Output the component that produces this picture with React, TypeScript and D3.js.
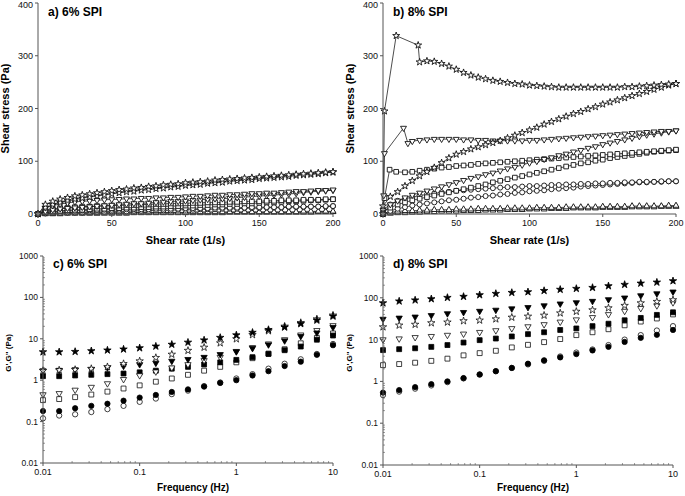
import React from 'react';
import * as d3 from 'd3';

// ---------- shared x values ----------
const rate = [0,5,10,15,20,25,30,35,40,45,50,55,60,65,70,75,80,85,90,95,100,105,110,115,120,125,130,135,140,145,150,155,160,165,170,175,180,185,190,195,200];
const freq = [0.01,0.0147,0.0215,0.0316,0.0464,0.0681,0.1,0.147,0.215,0.316,0.464,0.681,1,1.47,2.15,3.16,4.64,6.81,10];

// ---------- panel a: 6% SPI flow curves ----------
const aStarUp = [0,18,24,28,31,34,36,38,40,42,44,46,47,49,50,52,53,55,56,57,59,60,61,62,64,65,66,67,68,69,70,71,72,73,74,75,76,77,78,79,80];
const aStarDown = [0,12,18,22,25,28,30,32,34,36,38,40,42,43,45,46,48,49,51,52,54,55,56,58,59,60,62,63,64,65,67,68,69,70,71,73,74,75,76,78,79];
const aTriDnUp = [0,12,16,19,21,23,24,25,26,27,27.5,28,29,29,30,30,31,31,32,32,33,34,34,35,36,36,37,37,38,39,39,40,40,41,42,43,43,44,45,45,46];
const aTriDnDown = [0,5,8,10,11,12,13,14,15,16,17,18,19,20,20,21,22,23,24,24,25,26,27,28,29,29,30,31,32,33,34,35,36,37,38,39,41,42,43,44,45];
const aSqUp = [0,7,10,11,12,13,14,14,15,15,16,16,17,17,18,18,19,19,20,20,20,21,21,22,22,22,23,23,24,24,24,25,25,26,26,26,27,27,27,28,28];
const aSqDown = [0,3,5,6,7,8,8,9,10,10,11,11,12,12,13,13,14,14,15,15,16,16,17,17,18,18,19,19,20,20,21,22,22,23,24,24,25,26,26,27,28];
const aCircUp = [0,3,4,5,6,6,7,7,7,8,8,8,9,9,9,9,10,10,10,10,11,11,11,11,12,12,12,12,12,13,13,13,13,13,14,14,14,14,14,15,15];
const aCircDown = [0,1,2,2,3,3,3,4,4,4,5,5,5,6,6,6,7,7,7,8,8,8,9,9,9,10,10,10,11,11,11,12,12,12,13,13,13,14,14,14,15];
const aTriUpUp = [0,1,1,2,2,2,2,2,2,3,3,3,3,3,3,3,3,3,3,3,3,4,4,4,4,4,4,4,4,4,4,4,4,4,4,4,5,5,5,5,5];
const aTriUpDown = [0,0,0,0,1,1,1,1,1,1,1,1,1,2,2,2,2,2,2,2,2,2,2,2,2,2,3,3,3,3,3,3,3,3,3,3,3,3,4,4,4];

// ---------- panel b: 8% SPI flow curves ----------
const bStarHeadX = [0,1,9,24,25];
const bStarHeadY = [0,195,338,320,288];
const bStarUpTail = [290,289,285,280,274,268,263,259,256,253,251,249,247,246,244,243,242,241,240,240,240,240,240,240,240,240,240,241,241,242,243,244,245,246,247];
const bStarDown = [15,33,42,53,63,72,80,88,97,106,113,118,123,127,131,135,139,144,149,154,159,164,170,175,180,185,190,194,199,203,208,212,216,220,224,228,232,236,240,244,247];
const bTriHeadX = [0,0.5,1,14,17];
const bTriHeadY = [0,35,115,163,134];
const bTriUpTail = [138,140,141,142,142,142,142,141,141,140,140,139,139,139,139,139,140,140,141,142,143,144,145,146,147,148,149,150,151,152,153,154,155,156,157,157,158];
const bTriDown = [8,18,25,31,36,40,44,48,52,56,60,64,68,71,75,78,82,86,89,93,97,100,104,107,111,114,118,121,125,128,132,135,138,141,144,147,150,152,154,156,158];
const bSqHeadX = [0,1,4.5,9];
const bSqHeadY = [0,30,84,80];
const bSqUpTail = [79,80,82,84,86,88,89,91,92,93,95,96,97,98,99,100,101,102,103,104,105,106,107,108,109,110,111,112,113,114,115,116,117,118,119,120,121,122];
const bSqDown = [4,12,18,22,26,29,32,35,38,41,44,47,50,53,56,60,63,66,69,72,75,78,81,84,87,90,93,96,98,101,103,106,108,110,112,114,116,118,119,120,121];
const bCircUp = [0,18,25,29,32,35,37,39,41,42,44,45,46,47,48,49,50,51,51,52,53,53,54,55,55,56,56,57,57,58,58,59,59,60,60,61,61,61,62,62,62];
const bCircDown = [0,6,10,13,16,18,20,22,24,26,27,29,31,32,34,35,37,38,40,41,43,44,45,47,48,49,50,52,53,54,55,56,57,58,59,60,60,61,61,62,62];
const bTriUpUp = [0,3,5,6,6,7,7,8,8,8,9,9,9,10,10,10,10,11,11,11,11,12,12,12,12,13,13,13,13,13,14,14,14,14,15,15,15,15,15,16,16];
const bTriUpDown = [0,1,2,2,3,3,4,4,5,5,5,6,6,6,7,7,7,8,8,8,9,9,9,10,10,10,11,11,11,11,12,12,12,12,13,13,13,13,14,14,14];

// ---------- panel c: 6% SPI G', G'' ----------
const cStarF = [4.8,4.8,4.9,5.1,5.3,5.6,6.0,6.6,7.3,8.2,9.3,10.7,12.3,14.2,16.6,19,23,28,35];
const cStarO = [1.7,1.75,1.8,1.9,2.1,2.5,2.9,3.5,4.2,5.2,6.2,7.9,9.9,12.5,15.5,20,24.5,30,37];
const cTriF = [1.7,1.75,1.8,1.85,2.0,2.2,2.4,2.6,2.9,3.2,3.6,4.2,4.9,5.9,7.2,9,11.5,14,19];
const cTriO = [0.45,0.48,0.58,0.68,0.83,1.05,1.3,1.6,2.0,2.4,3.0,3.6,5.0,6.2,7.6,9.6,12.5,16,21];
const cSqF = [1.25,1.25,1.3,1.35,1.4,1.45,1.55,1.7,1.9,2.1,2.4,2.7,3.1,3.6,4.3,5.3,6.5,9.5,12];
const cSqO = [0.33,0.35,0.39,0.45,0.53,0.63,0.75,0.92,1.1,1.35,1.7,2.1,2.7,3.4,4.4,5.6,7.8,10.5,13.5];
const cCircF = [0.18,0.18,0.21,0.24,0.27,0.32,0.38,0.44,0.52,0.6,0.7,0.86,1.0,1.3,1.65,2.2,2.8,4.1,7.0];
const cCircO = [0.12,0.14,0.15,0.17,0.2,0.24,0.3,0.36,0.46,0.56,0.72,0.88,1.1,1.4,1.9,2.5,3.2,4.3,7.5];

// ---------- panel d: 8% SPI G', G'' ----------
const dStarF = [75,83,88,94,101,107,117,126,133,138,148,158,166,175,192,207,222,235,253];
const dTriF = [31,33,35,38,42,45,48,51,55,59,65,72,77,83,91,100,113,126,139];
const dStarO = [20,22,23,25,26,28,29,31,34,36,38,43,47,51,57,65,75,81,89];
const dTriO = [10,10.5,11.3,12,12.8,13.7,15,16.5,18.5,20.5,23,26.5,30,34,40,48,56,65,77];
const dSqF = [5.6,5.9,6.2,6.7,7.4,8.5,9.7,10.6,11.9,13.5,15,17,18.5,21,24,29,33,39,45];
const dSqO = [2.45,2.6,2.8,3.1,3.5,4.2,4.75,5.4,6.5,7.5,8.7,10.3,12.8,15,17.7,22,27,32,40];
const dCircF = [0.54,0.62,0.73,0.86,1.0,1.2,1.47,1.76,2.1,2.65,3.2,3.75,4.5,5.5,6.7,8.8,11,13,17];
const dCircO = [0.47,0.57,0.67,0.8,0.96,1.18,1.45,1.75,2.1,2.55,3.1,3.95,4.9,5.8,7.4,10,12.8,16.5,21];

// ---------- tick labels ----------
const linXTicks = [0,50,100,150,200];
const linYTicks = [0,100,200,300,400];
const logXTicks = [0.01,0.1,1,10];
const logYTicks = [0.01,0.1,1,10,100,1000];

type Shape = 'star' | 'triDown' | 'triUp' | 'square' | 'circle';
type Series = { xs: number[]; ys: number[]; shape: Shape; filled: boolean; line?: boolean };

const FONT = "Arial, 'Liberation Sans', Helvetica, sans-serif";
const AXIS = '#555';

function symbolPath(shape: Shape, big: boolean): string {
  const s = big ? 1 : 0.9;
  const gen = d3.symbol();
  switch (shape) {
    case 'star': return gen.type(d3.symbolStar).size(17 * s)()!;
    case 'triDown':
    case 'triUp': return gen.type(d3.symbolTriangle).size(17 * s)()!;
    case 'square': return gen.type(d3.symbolSquare).size(24 * s)()!;
    default: return gen.type(d3.symbolCircle).size(22 * s)()!;
  }
}

function Marks({ series, sx, sy, big }: { series: Series[]; sx: (v: number) => number; sy: (v: number) => number; big: boolean }) {
  return (
    <g>
      {series.map((s, i) => {
        const pts: [number, number][] = s.xs.map((x, j) => [x, s.ys[j]]);
        const line = d3.line<[number, number]>().x(d => sx(d[0])).y(d => sy(d[1]));
        return s.line ? <path key={'l' + i} d={line(pts) || ''} fill="none" stroke="#000" strokeWidth={0.7} /> : null;
      })}
      {series.map((s, i) => {
        const p = symbolPath(s.shape, big);
        const rot = s.shape === 'triDown' ? ' rotate(180)' : '';
        return (
          <g key={'m' + i}>
            {s.xs.map((x, j) => (
              <path key={j} d={p} transform={`translate(${sx(x)},${sy(s.ys[j])})${rot}`}
                fill={s.filled ? '#000' : '#fff'} stroke={s.filled ? '#000' : '#111'} strokeWidth={big ? 0.8 : 0.9} />
            ))}
          </g>
        );
      })}
    </g>
  );
}

function LinearPanel({ x0, x1, yTop, yBot, title, series, yLabelX, xLabelY }: any) {
  const sx = d3.scaleLinear().domain([0, 200]).range([x0, x1]);
  const sy = d3.scaleLinear().domain([0, 400]).range([yBot, yTop]);
  return (
    <g fontFamily={FONT}>
      <Marks series={series} sx={sx} sy={sy} big={false} />
      <line x1={x0} x2={x0} y1={yTop} y2={yBot} stroke={AXIS} strokeWidth={1} />
      <line x1={x0} x2={x1} y1={yBot} y2={yBot} stroke={AXIS} strokeWidth={1} />
      {linYTicks.map(t => (
        <g key={'y' + t}>
          <line x1={x0 - 3} x2={x0} y1={sy(t)} y2={sy(t)} stroke={AXIS} />
          <text x={x0 - 5} y={Math.max(sy(t) + 3, 8)} fontSize={9} textAnchor="end" fill="#111">{t}</text>
        </g>
      ))}
      {linXTicks.map(t => (
        <g key={'x' + t}>
          <line x1={sx(t)} x2={sx(t)} y1={yBot} y2={yBot + 3} stroke={AXIS} />
          <text x={sx(t)} y={yBot + 12} fontSize={9} textAnchor="middle" fill="#111">{t}</text>
        </g>
      ))}
      <text x={x0 + 10} y={yTop + 13} fontSize={12} fontWeight="bold">{title}</text>
      <text transform={`translate(${yLabelX},${(yTop + yBot) / 2}) rotate(-90)`} fontSize={11} fontWeight="bold" textAnchor="middle">Shear stress (Pa)</text>
      <text x={(x0 + x1) / 2} y={xLabelY} fontSize={11} fontWeight="bold" textAnchor="middle">Shear rate (1/s)</text>
    </g>
  );
}

function fmt(v: number) {
  return v < 1 ? String(v) : String(Math.round(v));
}

function LogPanel({ x0, x1, yTop, yBot, title, series, yLabelX }: any) {
  const sx = d3.scaleLog().domain([0.01, 10]).range([x0, x1]);
  const sy = d3.scaleLog().domain([0.01, 1000]).range([yBot, yTop]);
  const minorY: number[] = [];
  logYTicks.slice(0, -1).forEach(d => { for (let k = 2; k < 10; k++) minorY.push(d * k); });
  const minorX: number[] = [];
  logXTicks.slice(0, -1).forEach(d => { for (let k = 2; k < 10; k++) minorX.push(d * k); });
  return (
    <g fontFamily={FONT}>
      <Marks series={series} sx={sx} sy={sy} big={true} />
      <line x1={x0} x2={x0} y1={yTop} y2={yBot} stroke={AXIS} strokeWidth={1} />
      <line x1={x0} x2={x1} y1={yBot} y2={yBot} stroke={AXIS} strokeWidth={1} />
      {minorY.map((t, i) => <line key={'my' + i} x1={x0} x2={x0 + 2} y1={sy(t)} y2={sy(t)} stroke={AXIS} strokeWidth={0.6} />)}
      {minorX.map((t, i) => <line key={'mx' + i} x1={sx(t)} x2={sx(t)} y1={yBot} y2={yBot - 2} stroke={AXIS} strokeWidth={0.6} />)}
      {logYTicks.map(t => (
        <g key={'y' + t}>
          <line x1={x0 - 3} x2={x0} y1={sy(t)} y2={sy(t)} stroke={AXIS} />
          <text x={x0 - 5} y={sy(t) + 3} fontSize={8.5} textAnchor="end" fill="#111">{fmt(t)}</text>
        </g>
      ))}
      {logXTicks.map(t => (
        <g key={'x' + t}>
          <line x1={sx(t)} x2={sx(t)} y1={yBot} y2={yBot + 3} stroke={AXIS} />
          <text x={sx(t)} y={yBot + 12} fontSize={9} textAnchor="middle" fill="#111">{fmt(t)}</text>
        </g>
      ))}
      <text x={x0 + 10} y={yTop + 12} fontSize={12} fontWeight="bold">{title}</text>
      <text transform={`translate(${yLabelX},${yTop + 97}) rotate(-90)`} fontSize={8} fontWeight="bold" textAnchor="middle">G',G" (Pa)</text>
      <text x={(x0 + x1) / 2 + 5} y={491} fontSize={10} fontWeight="bold" textAnchor="middle">Frequency (Hz)</text>
    </g>
  );
}

export default function App() {
  const tail = (n: number) => rate.slice(n);
  const seriesA: Series[] = [
    { xs: rate, ys: aTriUpDown, shape: 'triUp', filled: false, line: true },
    { xs: rate, ys: aTriUpUp, shape: 'triUp', filled: false, line: true },
    { xs: rate, ys: aCircDown, shape: 'circle', filled: false, line: true },
    { xs: rate, ys: aCircUp, shape: 'circle', filled: false, line: true },
    { xs: rate, ys: aSqDown, shape: 'square', filled: false, line: true },
    { xs: rate, ys: aSqUp, shape: 'square', filled: false, line: true },
    { xs: rate, ys: aTriDnDown, shape: 'triDown', filled: false, line: true },
    { xs: rate, ys: aTriDnUp, shape: 'triDown', filled: false, line: true },
    { xs: rate, ys: aStarDown, shape: 'star', filled: false, line: true },
    { xs: rate, ys: aStarUp, shape: 'star', filled: false, line: true },
  ];
  const seriesB: Series[] = [
    { xs: rate, ys: bTriUpDown, shape: 'triUp', filled: false, line: true },
    { xs: rate, ys: bTriUpUp, shape: 'triUp', filled: false, line: true },
    { xs: rate, ys: bCircDown, shape: 'circle', filled: false, line: true },
    { xs: rate, ys: bCircUp, shape: 'circle', filled: false, line: true },
    { xs: rate, ys: bSqDown, shape: 'square', filled: false, line: true },
    { xs: bSqHeadX.concat(tail(3)), ys: bSqHeadY.concat(bSqUpTail), shape: 'square', filled: false, line: true },
    { xs: rate, ys: bTriDown, shape: 'triDown', filled: false, line: true },
    { xs: bTriHeadX.concat(tail(4)), ys: bTriHeadY.concat(bTriUpTail), shape: 'triDown', filled: false, line: true },
    { xs: rate, ys: bStarDown, shape: 'star', filled: false, line: true },
    { xs: bStarHeadX.concat(tail(6)), ys: bStarHeadY.concat(bStarUpTail), shape: 'star', filled: false, line: true },
  ];
  const mk = (ys: number[], shape: Shape, filled: boolean): Series => ({ xs: freq, ys, shape, filled });
  const seriesC: Series[] = [
    mk(cCircO, 'circle', false), mk(cCircF, 'circle', true),
    mk(cSqO, 'square', false), mk(cSqF, 'square', true),
    mk(cTriO, 'triDown', false), mk(cTriF, 'triDown', true),
    mk(cStarO, 'star', false), mk(cStarF, 'star', true),
  ];
  const seriesD: Series[] = [
    mk(dCircO, 'circle', false), mk(dCircF, 'circle', true),
    mk(dSqO, 'square', false), mk(dSqF, 'square', true),
    mk(dTriO, 'triDown', false), mk(dTriF, 'triDown', true),
    mk(dStarO, 'star', false), mk(dStarF, 'star', true),
  ];
  return (
    <svg width={685} height={496} style={{ position: 'absolute', left: 0, top: 0, background: '#fff' }}>
      <rect width={685} height={496} fill="#fff" />
      <LinearPanel x0={38} x1={333} yTop={3} yBot={214} title="a) 6% SPI" series={seriesA} yLabelX={9} xLabelY={244} />
      <LinearPanel x0={383} x1={676} yTop={3} yBot={214} title="b) 8% SPI" series={seriesB} yLabelX={354} xLabelY={244} />
      <LogPanel x0={43} x1={333} yTop={256} yBot={463} title="c) 6% SPI" series={seriesC} yLabelX={11} />
      <LogPanel x0={383} x1={673} yTop={256} yBot={465} title="d) 8% SPI" series={seriesD} yLabelX={352} />
    </svg>
  );
}
